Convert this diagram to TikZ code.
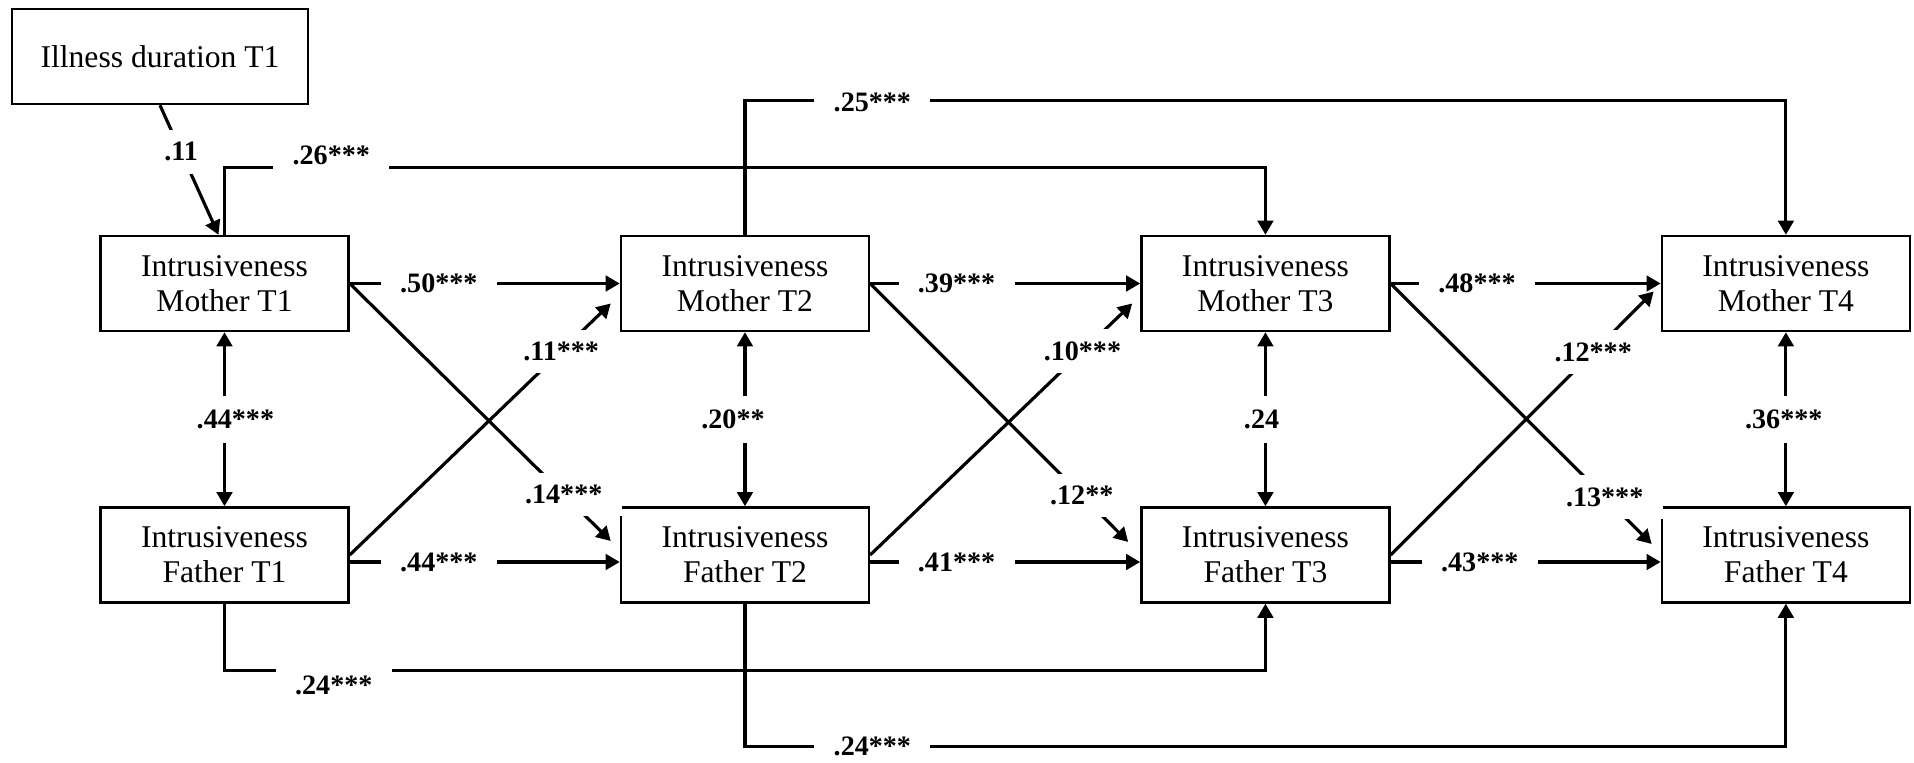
\documentclass[tikz,border=0pt]{standalone}
\usepackage{fontspec}
\setmainfont{Liberation Serif}
\usepackage{tikz}
\usetikzlibrary{arrows.meta, calc, positioning}
\tikzstyle{measure_box}=[rectangle, draw=black, line width=0.7pt, align=center,
   minimum width=2.48cm, minimum height=0.95cm, font=\fontsize{9}{10}\selectfont]
\tikzstyle{path_arrow}=[line width=0.9pt, -{Triangle[length=4pt,width=4.4pt]}]
\tikzstyle{cov_arrow}=[line width=0.9pt,
   {Triangle[length=4pt,width=4.4pt]}-{Triangle[length=4pt,width=4.4pt]}]
\tikzstyle{coef}=[fill=white, inner xsep=5.5pt, inner ysep=3.5pt,
   font=\fontsize{8}{9}\selectfont\bfseries]

\begin{document}
\begin{tikzpicture}
\useasboundingbox (0,0) rectangle (19.14,-7.62);

% Covariate
\node [measure_box, minimum width=2.96cm] (illness_t1) at (1.60,-0.565) {Illness duration T1};

% Mother measurements
\node [measure_box] (mother_t1) at (2.245,-2.835)              {Intrusiveness\\Mother T1};
\node [measure_box] (mother_t2) [right=2.70cm of mother_t1]    {Intrusiveness\\Mother T2};
\node [measure_box] (mother_t3) [right=2.70cm of mother_t2]    {Intrusiveness\\Mother T3};
\node [measure_box] (mother_t4) [right=2.70cm of mother_t3]    {Intrusiveness\\Mother T4};

% Father measurements
\node [measure_box] (father_t1) [below=1.74cm of mother_t1]    {Intrusiveness\\Father T1};
\node [measure_box] (father_t2) [below=1.74cm of mother_t2]    {Intrusiveness\\Father T2};
\node [measure_box] (father_t3) [below=1.74cm of mother_t3]    {Intrusiveness\\Father T3};
\node [measure_box] (father_t4) [below=1.74cm of mother_t4]    {Intrusiveness\\Father T4};

% Illness duration effect
\draw [path_arrow] (illness_t1.south) -- node[coef, pos=0.36] (c_ill) {.11} ([xshift=-0.06cm]mother_t1.north);

% Lag-2 paths
\coordinate (m13_up) at ($(mother_t1.north)+(0,0.67)$);
\coordinate (m24_up) at ($(mother_t2.north)+(0,1.34)$);
\coordinate (f13_dn) at ($(father_t1.south)+(0,-0.67)$);
\coordinate (f24_dn) at ($(father_t2.south)+(0,-1.43)$);
\draw [path_arrow] (mother_t1.north) -- (m13_up) -| node[coef, pos=0.0513, yshift=3.4pt] (c_m13) {.26***} (mother_t3.north);
\draw [path_arrow] (mother_t2.north) -- (m24_up) -| node[coef, pos=0.0612, yshift=-0.6pt] (c_m24) {.25***} (mother_t4.north);
\draw [path_arrow] (father_t1.south) -- (f13_dn) -| node[coef, pos=0.0525, yshift=-4.3pt] (c_f13) {.24***} (father_t3.south);
\draw [path_arrow] (father_t2.south) -- (f24_dn) -| node[coef, pos=0.0612] (c_f24) {.24***} (father_t4.south);

% Stability paths
\draw [path_arrow] (mother_t1.east) -- node[coef, pos=0.33] (c_m12) {.50***} (mother_t2.west);
\draw [path_arrow] (mother_t2.east) -- node[coef, pos=0.32] (c_m23) {.39***} (mother_t3.west);
\draw [path_arrow] (mother_t3.east) -- node[coef, pos=0.32] (c_m34) {.48***} (mother_t4.west);
\draw [path_arrow] ([yshift=-2pt]father_t1.east) -- node[coef, pos=0.33] (c_f12) {.44***} ([yshift=-2pt]father_t2.west);
\draw [path_arrow] ([yshift=-2pt]father_t2.east) -- node[coef, pos=0.32] (c_f23) {.41***} ([yshift=-2pt]father_t3.west);
\draw [path_arrow] ([yshift=-2pt]father_t3.east) -- node[coef, pos=0.33] (c_f34) {.43***} ([yshift=-2pt]father_t4.west);

% Within-time covariances
\draw [cov_arrow] (mother_t1.south) -- node[coef, inner ysep=4pt, xshift=3.1pt] (c_r1) {.44***} (father_t1.north);
\draw [cov_arrow] (mother_t2.south) -- node[coef, inner ysep=4pt, xshift=-3.4pt] (c_r2) {.20**} (father_t2.north);
\draw [cov_arrow] (mother_t3.south) -- node[coef, inner ysep=4pt, xshift=-1.1pt] (c_r3) {.24} (father_t3.north);
\draw [cov_arrow] (mother_t4.south) -- node[coef, inner ysep=4pt, xshift=-0.6pt] (c_r4) {.36***} (father_t4.north);

% Cross-lagged paths
\draw [path_arrow] (mother_t1.east) -- node[coef, pos=0.82] (c_mf12) {.14***} ($(father_t2.west)+(-0.09,0.14)$);
\draw [path_arrow] (father_t1.east) -- node[coef, pos=0.81] (c_fm12) {.11***} ($(mother_t2.west)+(-0.09,-0.20)$);
\draw [path_arrow] (mother_t2.east) -- node[coef, pos=0.82] (c_mf23) {.12**} ($(father_t3.west)+(-0.12,0.13)$);
\draw [path_arrow] (father_t2.east) -- node[coef, pos=0.81] (c_fm23) {.10***} ($(mother_t3.west)+(-0.08,-0.20)$);
\draw [path_arrow] (mother_t3.east) -- node[coef, pos=0.82] (c_mf34) {.13***} ($(father_t4.west)+(-0.09,0.11)$);
\draw [path_arrow] (father_t3.east) -- node[coef, pos=0.77] (c_fm34) {.12***} ($(mother_t4.west)+(-0.07,-0.08)$);

\end{tikzpicture}
\end{document}
